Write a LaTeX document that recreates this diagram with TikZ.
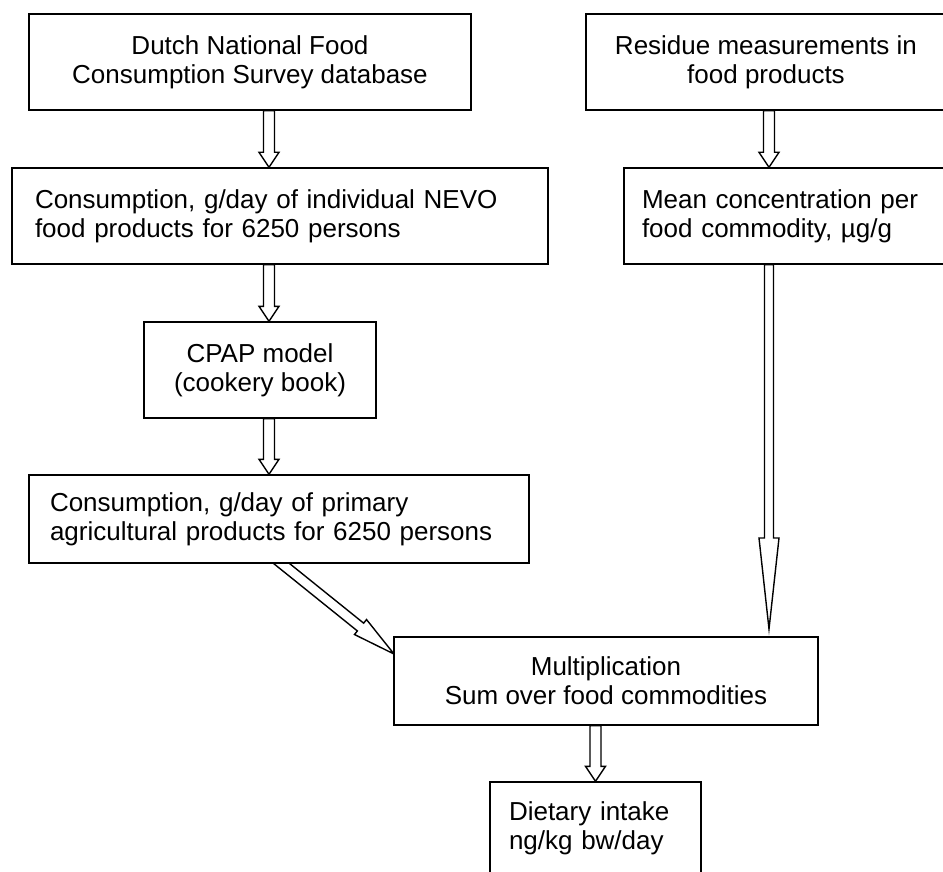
\documentclass[tikz,border=0pt]{standalone}
\usepackage{fontspec}
\setmainfont{Liberation Sans}
\usetikzlibrary{calc,backgrounds}

\begin{document}
\begin{tikzpicture}[x=0.5pt,y=-0.5pt,
	font=\fontsize{13}{14.5}\selectfont,
	box/.style={draw, fill=white, line width=0.7pt, inner ysep=2pt},
	cbox/.style 2 args={box, align=center, minimum width=#1, minimum height=#2},
	lbox/.style n args={3}{box, align=left, text width=#1, minimum height=#2, inner xsep=#3},
	hollow/.style n args={3}{line width=0.7pt, fill=white, to path={
		($(\tikztotarget)!#3!(\tikztostart)$) coordinate (hb)
		($(\tikztostart)!#1!90:(\tikztotarget)$) -- ($(hb)!#1!90:(\tikztotarget)$)
		-- ($(hb)!#2!90:(\tikztotarget)$) -- (\tikztotarget)
		-- ($(hb)!#2!-90:(\tikztotarget)$) -- ($(hb)!#1!-90:(\tikztotarget)$)
		-- ($(\tikztostart)!#1!-90:(\tikztotarget)$) -- cycle}}]
	\useasboundingbox (0,0) rectangle (943,872);
	\clip (0,0) rectangle (943,872);
	
	\node[cbox={221pt}{48pt}] (b1) at (250,62) {Dutch National Food\\Consumption Survey database};
	\node[lbox={245pt}{48pt}{11.5pt}] (b3) at (280,216) {Consumption, g/day of individual NEVO\\food products for 6250 persons};
	\node[cbox={116pt}{48pt}] (b5) at (260,370) {CPAP model\\(cookery book)};
	\node[lbox={229pt}{44pt}{10.5pt}] (b6) at (279,519) {Consumption, g/day of primary\\agricultural products for 6250 persons};
	
	\node[cbox={180pt}{48pt}] (b2) at (766,62) {Residue measurements in\\food products};
	\node[lbox={150pt}{48pt}{9pt}] (b4) at (792,216) {Mean concentration per\\food commodity, µg/g};
	
	\node[cbox={212pt}{44pt}] (b7) at (606,681) {Multiplication\\Sum over food commodities};
	\node[lbox={86.5pt}{46pt}{9.5pt}] (b8) at (595.5,828) {Dietary intake\\ng/kg bw/day};
	
	\coordinate (ax) at (269,0);
	\coordinate (rx) at (769,0);
	\coordinate (rtip) at (769,629);
	\coordinate (dtail) at (271,555);
	\coordinate (dtip) at (394,654);
	
	% arrows go behind the boxes
	\begin{scope}[on background layer]
	\draw[hollow={2.75pt}{5pt}{7.5pt}] (b1.south -| ax) to (b3.north -| ax);
	\draw[hollow={2.75pt}{5pt}{7.5pt}] (b3.south -| ax) to (b5.north -| ax);
	\draw[hollow={2.75pt}{5pt}{7.5pt}] (b5.south -| ax) to (b6.north -| ax);
	\draw[hollow={2.75pt}{5pt}{7.5pt}] (b2.south -| rx) to (b4.north -| rx);
	\draw[hollow={2.25pt}{5pt}{45.5pt}] (b4.south -| rx) to (rtip);
	\draw[hollow={2.5pt}{4.8pt}{21.5pt}] (dtail) to (dtip);
	\draw[hollow={2.75pt}{5pt}{7.5pt}] (b7.south -| b8) to (b8.north);
	\end{scope}
\end{tikzpicture}
\end{document}
